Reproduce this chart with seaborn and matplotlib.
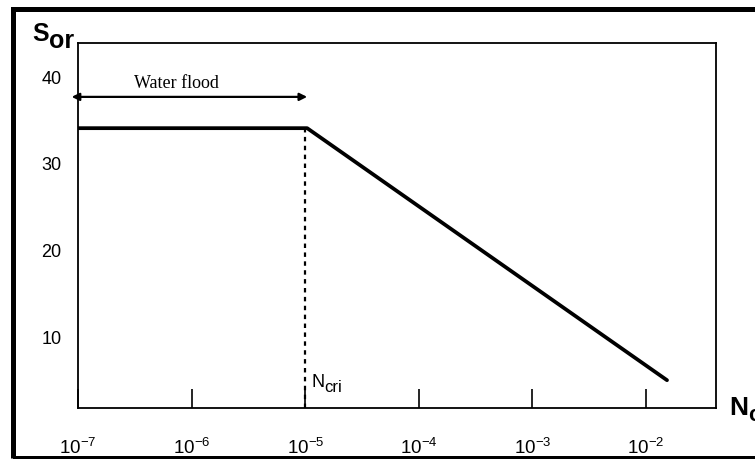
import matplotlib
matplotlib.use("Agg")
import matplotlib.pyplot as plt
from matplotlib.patches import Rectangle
import seaborn as sns
import pandas as pd

# Residual oil saturation vs. capillary number (capillary desaturation curve)
capillary_number = [1e-7, 1.04e-5, 1.53e-2]
residual_oil = [34, 34, 5]
n_critical = 1e-5
waterflood_range = [1e-7, 1.04e-5]
waterflood_level = 37.6

x_ticks = [1e-7, 1e-6, 1e-5, 1e-4, 1e-3, 1e-2]
x_tick_labels = [r"$\mathregular{10^{-7}}$", r"$\mathregular{10^{-6}}$",
                 r"$\mathregular{10^{-5}}$", r"$\mathregular{10^{-4}}$",
                 r"$\mathregular{10^{-3}}$", r"$\mathregular{10^{-2}}$"]
y_ticks = [10, 20, 30, 40]
y_tick_labels = ["10", "20", "30", "40"]

sns.set_style("white")
plt.rcParams["font.family"] = ["Liberation Sans", "DejaVu Sans"]
plt.rcParams["text.color"] = "black"
plt.rcParams["mathtext.fontset"] = "custom"
plt.rcParams["mathtext.rm"] = "Liberation Sans"
plt.rcParams["mathtext.it"] = "Liberation Sans:italic"
plt.rcParams["mathtext.bf"] = "Liberation Sans:bold"

W, H = 755, 460
fig = plt.figure(figsize=(W / 100, H / 100), dpi=100)
fig.patch.set_facecolor("white")


def px(x, y):
    return x / W, 1 - y / H


# outer frame
fig.patches.append(Rectangle(px(13, 458.5), (800 - 13) / W, (458.5 - 10) / H,
                             transform=fig.transFigure, fill=False,
                             edgecolor="black", linewidth=3.6, zorder=0))

ax = fig.add_axes([78 / W, 1 - 409 / H, (716 - 78) / W, (409 - 44) / H])
ax.set_xscale("log")

df = pd.DataFrame({"Nc": capillary_number, "Sor": residual_oil})
sns.lineplot(data=df, x="Nc", y="Sor", ax=ax, color="black", linewidth=2.7,
             sort=False, estimator=None)

ax.set_xlim(1e-7, 0.0413)
ax.set_ylim(1.8, 43.8)

# critical capillary number marker
ax.plot([n_critical, n_critical], [1.8, residual_oil[1]], color="black",
        linewidth=1.6, linestyle=(0, (2, 2)))
ax.annotate("N", xy=(n_critical, 1.8), xytext=(6, 22), textcoords="offset pixels",
            fontsize=13, ha="left", va="baseline", color="black")
ax.annotate("cri", xy=(n_critical, 1.8), xytext=(19, 17), textcoords="offset pixels",
            fontsize=12, ha="left", va="baseline", color="black")

# waterflood range arrow
ax.annotate("", xy=(waterflood_range[1], waterflood_level),
            xytext=(waterflood_range[0] * 0.88, waterflood_level),
            arrowprops=dict(arrowstyle="<|-|>", color="black", lw=1.6,
                            mutation_scale=11, shrinkA=0, shrinkB=0),
            annotation_clip=False)
ax.text(7.4e-7, 38.7, "Water flood", fontsize=13, ha="center", va="baseline",
        color="black", family=["Liberation Serif", "DejaVu Serif"])

ax.set_xticks(x_ticks)
ax.set_xticklabels(x_tick_labels)
ax.minorticks_off()
ax.set_yticks(y_ticks)
ax.set_yticklabels(y_tick_labels)
ax.tick_params(axis="x", which="major", bottom=True, direction="in", length=13.5,
               width=1.2, pad=20.5, labelsize=13.5, colors="black")
ax.tick_params(axis="y", left=False, length=0, pad=12, labelsize=13,
               colors="black")
ax.set_xlabel("")
ax.set_ylabel("")
for s in ax.spines.values():
    s.set_visible(True)
    s.set_color("black")
    s.set_linewidth(1.3)

# axis titles
fig.text(*px(32, 41), "S", fontsize=18, fontweight="bold", ha="left",
         va="baseline", color="black")
fig.text(*px(49, 48), "or", fontsize=18, fontweight="bold", ha="left",
         va="baseline", color="black")
fig.text(*px(729, 415), "N", fontsize=19, fontweight="bold", ha="left",
         va="baseline", color="black")
fig.text(*px(748, 421), "c", fontsize=16, fontweight="bold", ha="left",
         va="baseline", color="black")

fig.savefig("out.png", dpi=100)
